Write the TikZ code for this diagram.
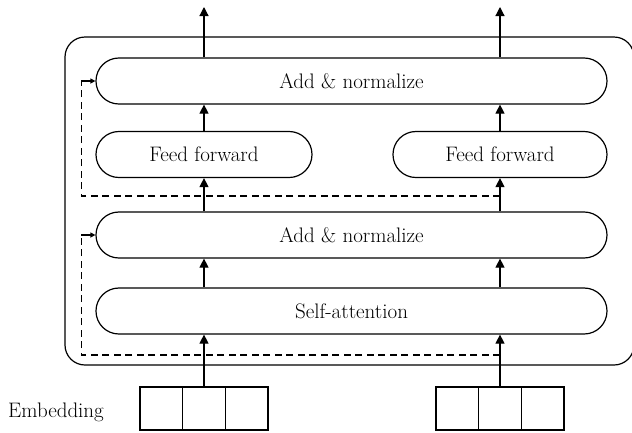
\documentclass[tikz,border=0pt]{standalone}
\usetikzlibrary{arrows.meta}

\begin{document}
\begin{tikzpicture}[x=1pt,y=-1pt,
		font=\fontsize{21}{25}\selectfont,
		line width=1.2pt,
		pill/.style={draw,rectangle,rounded corners=22.9pt,minimum height=46pt,inner sep=0pt},
		cell/.style={draw,rectangle,minimum width=42.7pt,minimum height=43pt,inner sep=0pt},
		flow/.style={-{Triangle[length=9pt,width=9pt]}},
		skip/.style={dash pattern=on 7pt off 4.5pt},
		stub/.style={-{Triangle[length=5pt,width=5pt]}}]
		\useasboundingbox (0,0) rectangle (632,432);
		\draw[rounded corners=20pt] (65,37) rectangle (634,365);  % encoder frame
		\node[pill,minimum width=511pt] (addtop) at (351.5,81) {Add \& normalize};
		\node[pill,minimum width=216pt] (ffL) at (204,154.5) {Feed forward};
		\node[pill,minimum width=214pt] (ffR) at (500,154.5) {Feed forward};
		\node[pill,minimum width=511pt] (addmid) at (351.5,235) {Add \& normalize};
		\node[pill,minimum width=511pt] (selfatt) at (351.5,311) {Self-attention};
		\foreach \i/\x in {1/161.3,2/204,3/246.7}
			\node[cell] (eL\i) at (\x,408.5) {};
		\foreach \i/\x in {1/457.3,2/500,3/542.7}
			\node[cell] (eR\i) at (\x,408.5) {};
		\node (embtxt) at (56,412) {Embedding};
		\coordinate (outL) at (204,7);
		\coordinate (outR) at (500,7);
		\coordinate (tapT) at (500,196);  % residual 2
		\coordinate (tapB) at (500,355);  % residual 1
		\coordinate (kT) at ([xshift=-14pt]addtop.west);
		\coordinate (kB) at ([xshift=-14pt]addmid.west);
		\foreach \e/\f/\o in {eL2/ffL/outL,eR2/ffR/outR}{
			\draw[flow] (\e.north) -- (\e.north |- selfatt.south);
			\draw[flow] (selfatt.north -| \e) -- (addmid.south -| \e);
			\draw[flow] (addmid.north -| \f) -- (\f.south);
			\draw[flow] (\f.north) -- (addtop.south -| \f);
			\draw[flow] (addtop.north -| \f) -- (\o);
		}
		\draw[skip] (tapT) -| (kT);
		\draw[stub] (kT) -- (addtop.west);
		\draw[skip] (tapB) -| (kB);
		\draw[stub] (kB) -- (addmid.west);
	\end{tikzpicture}
\end{document}
